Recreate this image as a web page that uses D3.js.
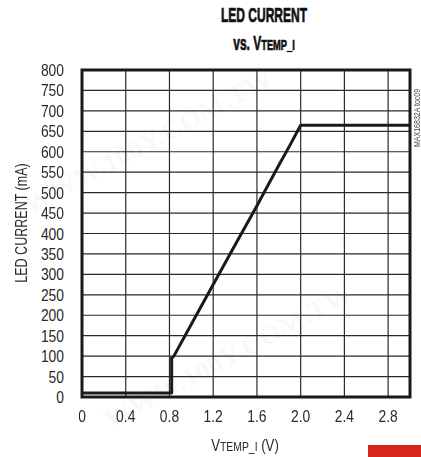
<!DOCTYPE html>
<html><head><meta charset="utf-8">
<script src="https://cdn.jsdelivr.net/npm/d3@7/dist/d3.min.js"></script>
<style>
html,body{margin:0;padding:0;background:#fff;}
svg{display:block;}
</style></head>
<body><svg id="c" width="421" height="457"></svg>
<script>
const xTicks = [0, 0.4, 0.8, 1.2, 1.6, 2.0, 2.4, 2.8];
const xTickLabels = ["0", "0.4", "0.8", "1.2", "1.6", "2.0", "2.4", "2.8"];
const yTicks = [0,50,100,150,200,250,300,350,400,450,500,550,600,650,700,750,800];
const vtemp = [0, 0.82, 0.82, 0.84, 1.0, 1.2, 1.4, 1.6, 1.8, 1.9, 1.97, 2.0, 3.0];
const ledCurrent = [10, 10, 95, 100, 178, 275, 372, 468, 567, 615, 650, 665, 665];

const svg = d3.select("#c");
const m = {l: 82, r: 410, t: 70, b: 397};
const x = d3.scaleLinear().domain([0, 3.0]).range([m.l, m.r]);
const y = d3.scaleLinear().domain([0, 800]).range([m.b, m.t]);

const SANS = "'Liberation Sans', Arial, sans-serif";

// faint watermark
const wm = svg.append("g").attr("fill", "#000").attr("opacity", 0.03)
  .style("font-family", "'Liberation Serif', serif").style("font-weight", "bold").style("font-size", "28px");
[[30, 215], [110, 430]].forEach(p => {
  wm.append("text").attr("transform", `translate(${p[0]},${p[1]}) rotate(-28)`).text("WWW.100Y.COM.TW");
});

// grid
const g = svg.append("g");
g.selectAll("line.h").data(yTicks).enter().append("line")
  .attr("x1", m.l).attr("x2", m.r).attr("y1", d => y(d)).attr("y2", d => y(d))
  .attr("stroke", "#2a2a2a").attr("stroke-width", 1.2);
g.selectAll("line.v").data(xTicks).enter().append("line")
  .attr("y1", m.t).attr("y2", m.b).attr("x1", d => x(d)).attr("x2", d => x(d))
  .attr("stroke", "#2a2a2a").attr("stroke-width", 1.2);

// curve
const line = d3.line().x(d => x(d[0])).y(d => y(d[1]));
svg.append("path").datum(vtemp.map((v, i) => [v, ledCurrent[i]]))
  .attr("d", line).attr("fill", "none").attr("stroke", "#1a1a1a")
  .attr("stroke-width", 3).attr("stroke-linejoin", "round");

// frame
svg.append("rect").attr("x", m.l).attr("y", m.t).attr("width", m.r - m.l).attr("height", m.b - m.t)
  .attr("fill", "none").attr("stroke", "#1a1a1a").attr("stroke-width", 3);

function ntext(parent, px, py, anchor, size, sx, rot) {
  return parent.append("text")
    .attr("transform", `translate(${px},${py})` + (rot ? ` rotate(${rot})` : "") + ` scale(${sx},1)`)
    .attr("text-anchor", anchor)
    .style("font-family", SANS).style("font-size", size + "px").attr("fill", "#2a2a2a");
}

// y tick labels
const yl = svg.append("g");
yTicks.forEach(d => ntext(yl, 64, y(d) + 6, "end", 16.5, 0.84).text(d));

// x tick labels
const xl = svg.append("g");
xTicks.forEach((d, i) => ntext(xl, x(d), 422, "middle", 16.5, 0.84).text(xTickLabels[i]));

// y axis title
ntext(svg, 27, 223, "middle", 16.5, 0.76, -90).text("LED CURRENT (mA)");

// x axis title
const xt = ntext(svg, 245, 451, "middle", 16.5, 0.8);
xt.append("tspan").text("V");
xt.append("tspan").style("font-size", "13px").text("TEMP_I");
xt.append("tspan").text(" (V)");

// title
ntext(svg, 264, 22, "middle", 20, 0.6).style("font-weight", "bold").attr("fill", "#111")
  .attr("stroke", "#111").attr("stroke-width", 0.7).text("LED CURRENT");
const t2 = ntext(svg, 264, 50, "middle", 20, 0.6).style("font-weight", "bold").attr("fill", "#111")
  .attr("stroke", "#111").attr("stroke-width", 0.7);
t2.append("tspan").text("vs. V");
t2.append("tspan").style("font-size", "15.5px").text("TEMP_I");

// side id
ntext(svg, 420, 147, "start", 9, 0.78, -90).attr("fill", "#444").text("MAX16832A toc09");

// red marker
svg.append("rect").attr("x", 368).attr("y", 445).attr("width", 53).attr("height", 12).attr("fill", "#d9261c");
</script></body></html>
